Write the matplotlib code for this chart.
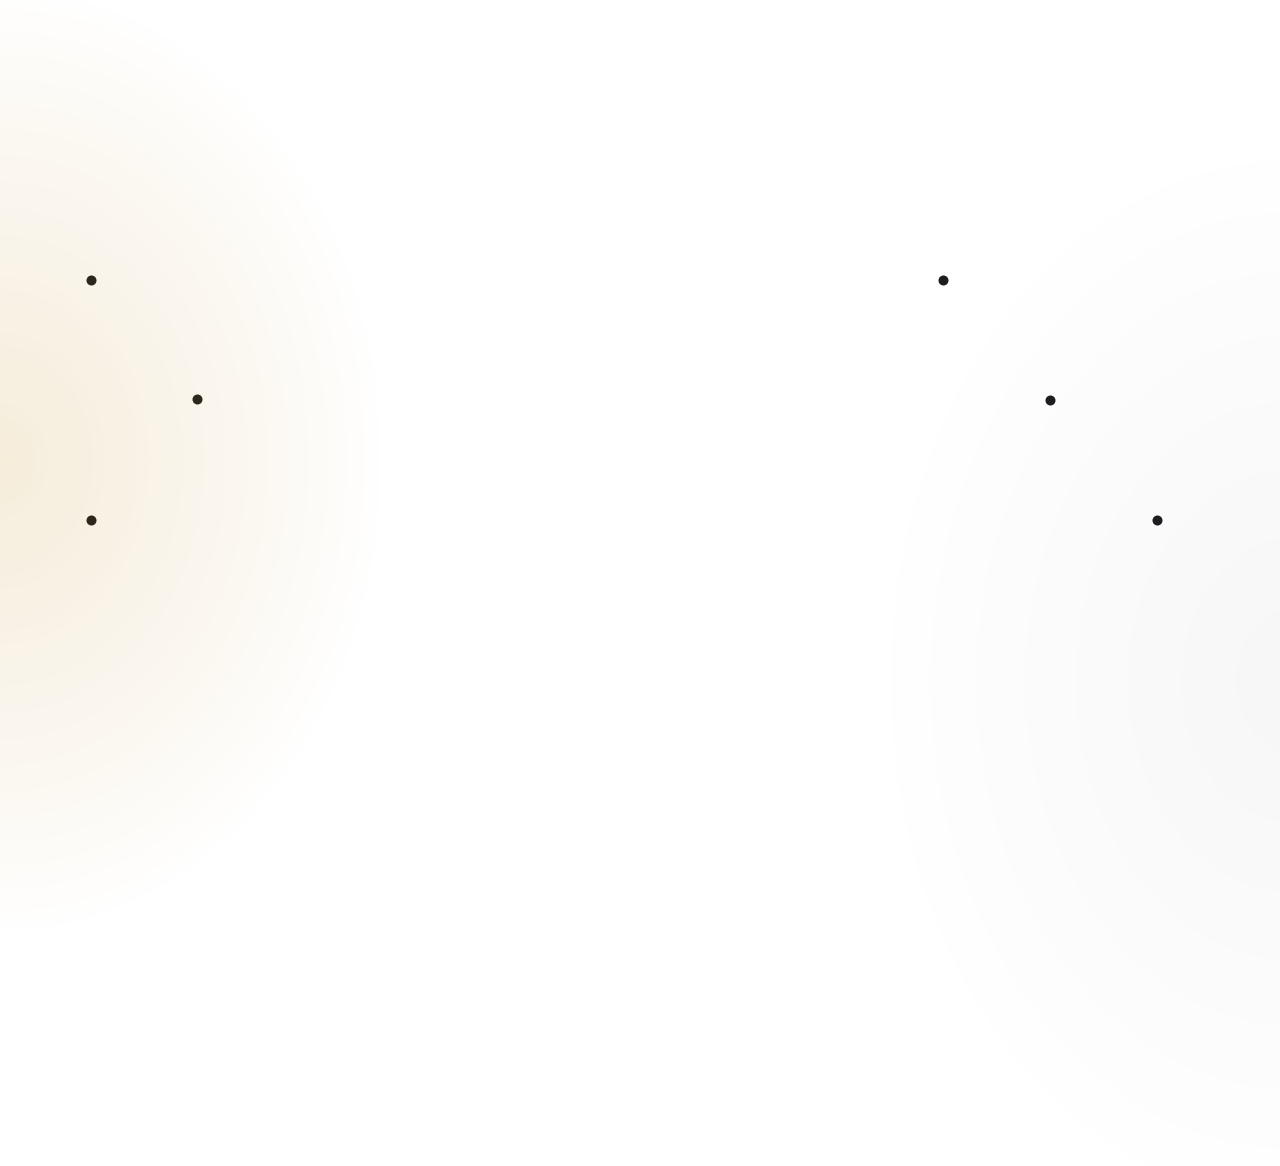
import numpy as np
import matplotlib
matplotlib.use('Agg')
import matplotlib.pyplot as plt

W, H = 1280, 1166

# left group of dots (warm glow side)
left_x = [91, 197, 91]
left_y = [280, 399, 520]
# right group of dots (grey glow side)
right_x = [943, 1050, 1157]
right_y = [280, 400, 520]

left_dot_color = '#2b271d'
right_dot_color = '#1d1d21'


def glow(xx, yy, cx, cy, rx, ry, color, p=1.0):
    # soft radial blob, strength 1 in the middle fading to 0 at the edge
    d = np.sqrt(((xx - cx) / rx) ** 2 + ((yy - cy) / ry) ** 2)
    a = np.clip(1 - d, 0, 1) ** p
    col = np.array(matplotlib.colors.to_rgb(color))
    return a[..., None], col


yy, xx = np.mgrid[0:H, 0:W].astype(float)
img = np.ones((H, W, 3))

a, col = glow(xx, yy, 0, 460, 380, 470, '#f6eddb', 0.9)
img = img * (1 - a) + col * a
a, col = glow(xx, yy, 1290, 680, 400, 520, '#f7f7f7', 0.9)
img = img * (1 - a) + col * a

fig = plt.figure(figsize=(W / 100, H / 100), dpi=100)
ax = fig.add_axes([0, 0, 1, 1])
ax.imshow(img, extent=(0, W, H, 0), interpolation='bilinear', zorder=0)
ax.scatter(left_x, left_y, s=52, color=left_dot_color, linewidths=0, zorder=2)
ax.scatter(right_x, right_y, s=52, color=right_dot_color, linewidths=0, zorder=2)
ax.set_xlim(0, W)
ax.set_ylim(H, 0)
ax.axis('off')

fig.savefig('out.png', dpi=100)
